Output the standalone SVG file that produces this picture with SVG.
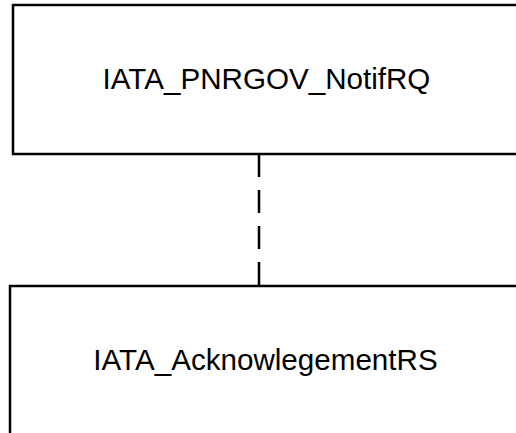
<svg xmlns="http://www.w3.org/2000/svg" width="516" height="433" viewBox="0 0 516 433">
<style>
.box{fill:#fff;stroke:#000;stroke-width:2.5}
.lbl{font-family:"Liberation Sans",Arial,sans-serif;font-size:29.6px;fill:#000;text-anchor:middle}
.conn{stroke:#000;stroke-width:2.5;stroke-dasharray:23 13;fill:none}
</style>
<rect x="0" y="0" width="516" height="433" fill="#fff"/>
<g id="connectors">
<line class="conn" x1="259" y1="154" x2="259" y2="286"/>
</g>
<g id="node-notifrq">
<rect class="box" x="13" y="5" width="520" height="149"/>
<text class="lbl" x="266.5" y="89">IATA_PNRGOV_NotifRQ</text>
</g>
<g id="node-ackrs">
<rect class="box" x="10" y="286" width="525" height="170"/>
<text class="lbl" x="265.5" y="370">IATA_AcknowlegementRS</text>
</g>
</svg>
